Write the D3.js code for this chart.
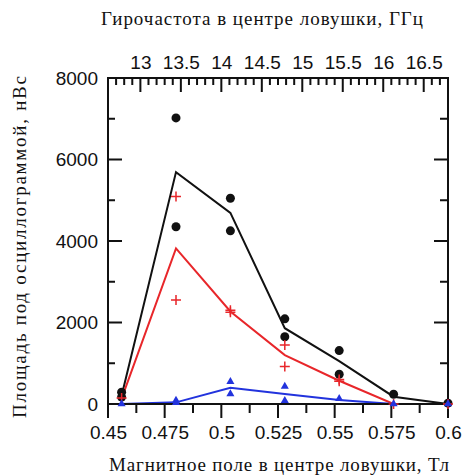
<!DOCTYPE html>
<html>
<head>
<meta charset="utf-8">
<script src="https://cdn.jsdelivr.net/npm/d3@7"></script>
<style>
  body { margin: 0; background: #fff; }
  text { fill: #111; }
</style>
</head>
<body>
<div id="chart"></div>
<script>
// chart size
var width = 464
var height = 475
var margin = {top: 78, right: 16, bottom: 71, left: 108}

// Data: magnetic field (T) and area under oscillogram (nV*s)
var lineField = [0.456, 0.48, 0.504, 0.528, 0.552, 0.576, 0.6]
var blackLine = [200, 5690, 4690, 1860, 1050, 180, 0]
var redLine = [130, 3820, 2270, 1200, 570, 0, 0]
var blueLine = [0, 40, 400, 245, 100, 0, 0]

var blackDotsX = [0.456, 0.456, 0.48, 0.48, 0.504, 0.504, 0.528, 0.528, 0.552, 0.552, 0.576, 0.6]
var blackDotsY = [290, 170, 7020, 4350, 5050, 4250, 2090, 1650, 1310, 730, 240, 20]

var redPlusX = [0.456, 0.48, 0.48, 0.504, 0.504, 0.528, 0.528, 0.552, 0.552, 0.576, 0.6]
var redPlusY = [150, 5090, 2550, 2300, 2250, 1450, 920, 600, 560, 0, 0]

var blueTriX = [0.456, 0.48, 0.48, 0.504, 0.504, 0.528, 0.528, 0.552, 0.576, 0.6]
var blueTriY = [0, 90, 30, 550, 250, 430, 80, 130, 0, 0]

var xTicks = [0.45, 0.475, 0.5, 0.525, 0.55, 0.575, 0.6]
var xTickLabels = ["0.45", "0.475", "0.5", "0.525", "0.55", "0.575", "0.6"]
var xMinor = [0.4625, 0.4875, 0.5125, 0.5375, 0.5625, 0.5875]
var yTicks = [0, 2000, 4000, 6000, 8000]
var yMinor = [1000, 3000, 5000, 7000]
var topTicks = [13, 13.5, 14, 14.5, 15, 15.5, 16, 16.5]
var gyroFactor = 28   // GHz per tesla

var svg = d3.select("#chart")
  .append("svg")
    .attr("width", width)
    .attr("height", height)

var x = d3.scaleLinear()
  .domain([0.45, 0.6])
  .range([margin.left, width - margin.right])

var xTop = d3.scaleLinear()
  .domain([0.45 * gyroFactor, 0.6 * gyroFactor])
  .range([margin.left, width - margin.right])

var y = d3.scaleLinear()
  .domain([0, 8000])
  .range([height - margin.bottom, margin.top])

var numFont = "'Liberation Sans', Arial, sans-serif"
var serifFont = "'Liberation Serif', 'Times New Roman', serif"

var plotLeft = margin.left, plotRight = width - margin.right
var plotBottom = height - margin.bottom, plotTop = margin.top

// axis labels
svg.append("g")
  .attr("transform", "translate(0," + plotBottom + ")")
  .call(d3.axisBottom(x).tickValues(xTicks).tickFormat(function(d, i){ return xTickLabels[i] })
    .tickSize(0).tickPadding(22))
svg.append("g")
  .attr("transform", "translate(" + plotLeft + ",0)")
  .call(d3.axisLeft(y).tickValues(yTicks).tickFormat(d3.format("d")).tickSize(0).tickPadding(10))
svg.append("g")
  .attr("transform", "translate(0," + plotTop + ")")
  .call(d3.axisTop(xTop).tickValues(topTicks).tickFormat(d3.format("")).tickSize(0).tickPadding(9))

svg.selectAll(".domain").remove()
svg.selectAll(".tick line").remove()
svg.selectAll(".tick text")
  .style("font-family", numFont)
  .style("font-size", "19px")
  .attr("fill", "#111")

// lines
var line = d3.line()
  .x(function(d){ return x(d[0]) })
  .y(function(d){ return y(d[1]) })

function drawLine(vals, color) {
  svg.append("path")
    .datum(d3.zip(lineField, vals))
    .attr("d", line)
    .attr("fill", "none")
    .attr("stroke", color)
    .attr("stroke-width", 2)
}
drawLine(blackLine, "#111")
drawLine(redLine, "#e8262a")
drawLine(blueLine, "#2233dd")

// frame and tick marks, drawn as filled rects on top
var frameG = svg.append("g").attr("fill", "#111")

function bar(x0, y0, w, h) {
  frameG.append("rect")
    .attr("x", Math.min(x0, x0 + w)).attr("y", Math.min(y0, y0 + h))
    .attr("width", Math.abs(w)).attr("height", Math.abs(h))
}
bar(plotLeft - 1, plotTop - 1, plotRight - plotLeft + 2, 2)
bar(plotLeft - 1, plotBottom - 1, plotRight - plotLeft + 2, 2)
bar(plotLeft - 1, plotTop - 1, 2, plotBottom - plotTop + 2)
bar(plotRight - 1, plotTop - 1, 2, plotBottom - plotTop + 2)

function vTicks(vals, scale, yBase, len) {
  vals.forEach(function(d){ bar(scale(d) - 1, yBase, 2, len) })
}
function hTicks(vals, xBase, len) {
  vals.forEach(function(d){ bar(xBase, y(d) - 1, len, 2) })
}

vTicks(xTicks, x, plotBottom, 14)        // bottom, outward
vTicks(xMinor, x, plotBottom, 9)
hTicks(yTicks.slice(1, 4), plotLeft, 14)   // left, inward
hTicks(yMinor, plotLeft, 7)
hTicks(yTicks.slice(1, 4), plotRight, -14)  // right, inward
hTicks(yMinor, plotRight, -8)
vTicks(topTicks, xTop, plotTop, 14)   // top, inward
vTicks(d3.range(127, 168).map(function(d){ return d / 10 })
  .filter(function(d){ return Math.round(d * 10) % 5 != 0 }), xTop, plotTop, 7)

// markers
svg.append("g").selectAll("circle")
  .data(d3.zip(blackDotsX, blackDotsY))
  .enter().append("circle")
    .attr("cx", function(d){ return x(d[0]) })
    .attr("cy", function(d){ return y(d[1]) })
    .attr("r", 4.5)
    .attr("fill", "#111")

svg.append("g").selectAll("path")
  .data(d3.zip(redPlusX, redPlusY))
  .enter().append("path")
    .attr("transform", function(d){ return "translate(" + x(d[0]) + "," + y(d[1]) + ")" })
    .attr("d", "M-5,0H5M0,-5V5")
    .attr("stroke", "#e8262a")
    .attr("stroke-width", 1.5)

svg.append("g").selectAll("path")
  .data(d3.zip(blueTriX, blueTriY))
  .enter().append("path")
    .attr("transform", function(d){ return "translate(" + x(d[0]) + "," + y(d[1]) + ")" })
    .attr("d", d3.symbol().type(d3.symbolTriangle).size(28))
    .attr("fill", "#2233dd")

// titles
svg.append("text")
  .attr("x", 262).attr("y", 25)
  .attr("text-anchor", "middle")
  .attr("textLength", 322)
  .style("font-family", serifFont)
  .style("font-size", "19px")
  .text("Гирочастота в центре ловушки, ГГц")

svg.append("text")
  .attr("x", 279).attr("y", 471)
  .attr("text-anchor", "middle")
  .attr("textLength", 340)
  .style("font-family", serifFont)
  .style("font-size", "19px")
  .text("Магнитное поле в центре ловушки, Тл")

svg.append("text")
  .attr("transform", "translate(26,247) rotate(-90)")
  .attr("text-anchor", "middle")
  .attr("textLength", 342)
  .style("font-family", serifFont)
  .style("font-size", "19px")
  .text("Площадь под осциллограммой, нВс")
</script>
</body>
</html>
